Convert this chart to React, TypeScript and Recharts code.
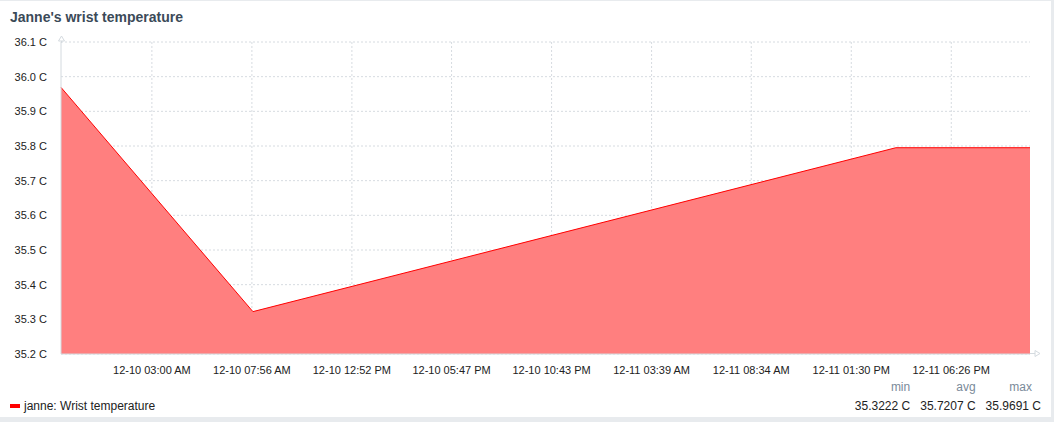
import { Area, AreaChart, CartesianGrid, XAxis, YAxis } from "recharts";

// minutes relative to 12-10 03:00 AM
const times = [-269, 299, 2202, 2599];
const values = [35.9691, 35.3222, 35.795, 35.795];

const tickMinutes = [0, 296, 592, 887, 1183, 1479, 1774, 2070, 2366];
const tickLabels = [
  "12-10 03:00 AM",
  "12-10 07:56 AM",
  "12-10 12:52 PM",
  "12-10 05:47 PM",
  "12-10 10:43 PM",
  "12-11 03:39 AM",
  "12-11 08:34 AM",
  "12-11 01:30 PM",
  "12-11 06:26 PM"
];
const yTicks = [35.2, 35.3, 35.4, 35.5, 35.6, 35.7, 35.8, 35.9, 36.0, 36.1];

const statNames = ["min", "avg", "max"];
const statValues = ["35.3222 C", "35.7207 C", "35.9691 C"];

const data = times.map((t, i) => ({ t, v: values[i] }));

const FONT = "'Liberation Sans', Arial, Helvetica, sans-serif";
const AXIS = "#d4dadf";

export default function App() {
  return (
    <div
      style={{
        position: "absolute",
        left: 0,
        top: 0,
        width: 1054,
        height: 422,
        background: "#e8ebee",
        fontFamily: FONT
      }}
    >
      <div
        style={{
          position: "absolute",
          left: 0,
          top: 1,
          width: 1051,
          height: 416,
          background: "#fff"
        }}
      >
        <div
          style={{
            position: "absolute",
            left: 10,
            top: 8,
            fontSize: 14,
            fontWeight: "bold",
            color: "#3b4a58"
          }}
        >
          Janne's wrist temperature
        </div>
        <div style={{ position: "absolute", left: 0, top: 0 }}>
          <AreaChart
            width={1054}
            height={380}
            data={data}
            margin={{ top: 41, right: 24, bottom: 7, left: 0 }}
          >
            <CartesianGrid
              stroke="#d6dbe0"
              strokeDasharray="2 2"
              verticalValues={tickMinutes}
            />
            <XAxis
              type="number"
              dataKey="t"
              domain={[times[0], times[times.length - 1]]}
              ticks={tickMinutes}
              tickFormatter={(v) => tickLabels[tickMinutes.indexOf(v)] ?? ""}
              tickLine={false}
              axisLine={{ stroke: AXIS }}
              height={20}
              interval={0}
              tick={{ fill: "#222", fontSize: 11, fontFamily: FONT }}
              tickMargin={6}
            />
            <YAxis
              type="number"
              domain={[35.2, 36.1]}
              ticks={yTicks}
              width={61}
              tickLine={false}
              axisLine={{ stroke: AXIS }}
              tickFormatter={(v) => `${v.toFixed(1)} C`}
              tick={{ fill: "#222", fontSize: 11, fontFamily: FONT }}
              tickMargin={8}
            />
            <Area
              type="linear"
              dataKey="v"
              stroke="#ff0000"
              strokeWidth={1}
              fill="#ff7f7f"
              fillOpacity={1}
              isAnimationActive={false}
              dot={false}
              activeDot={false}
            />
          </AreaChart>
        </div>
        <svg
          width={1054}
          height={380}
          style={{ position: "absolute", left: 0, top: 0, pointerEvents: "none" }}
        >
          <line x1={61.5} y1={36} x2={61.5} y2={42} stroke={AXIS} />
          <path d="M58.5 40 L61.5 35 L64.5 40 Z" fill="#fff" stroke={AXIS} />
          <line x1={1030} y1={352.5} x2={1036} y2={352.5} stroke={AXIS} />
          <path d="M1035 349.5 L1040 352.5 L1035 355.5 Z" fill="#fff" stroke={AXIS} />
        </svg>
        <div
          style={{
            position: "absolute",
            left: 10,
            top: 398,
            fontSize: 12,
            color: "#222",
            display: "flex",
            alignItems: "center"
          }}
        >
          <span
            style={{
              display: "inline-block",
              width: 10,
              height: 4,
              background: "#ff0000",
              marginRight: 4
            }}
          />
          janne: Wrist temperature
        </div>
        <div
          style={{
            position: "absolute",
            right: 10,
            top: 379,
            display: "flex",
            gap: 10,
            fontSize: 12
          }}
        >
          {statNames.map((n, i) => (
            <div key={n} style={{ textAlign: "right" }}>
              <div
                style={{
                  color: "#7a8a99",
                  marginBottom: 5,
                  paddingRight: i === statNames.length - 1 ? 9 : 0
                }}
              >
                {n}
              </div>
              <div style={{ color: "#222" }}>{statValues[i]}</div>
            </div>
          ))}
        </div>
      </div>
    </div>
  );
}
